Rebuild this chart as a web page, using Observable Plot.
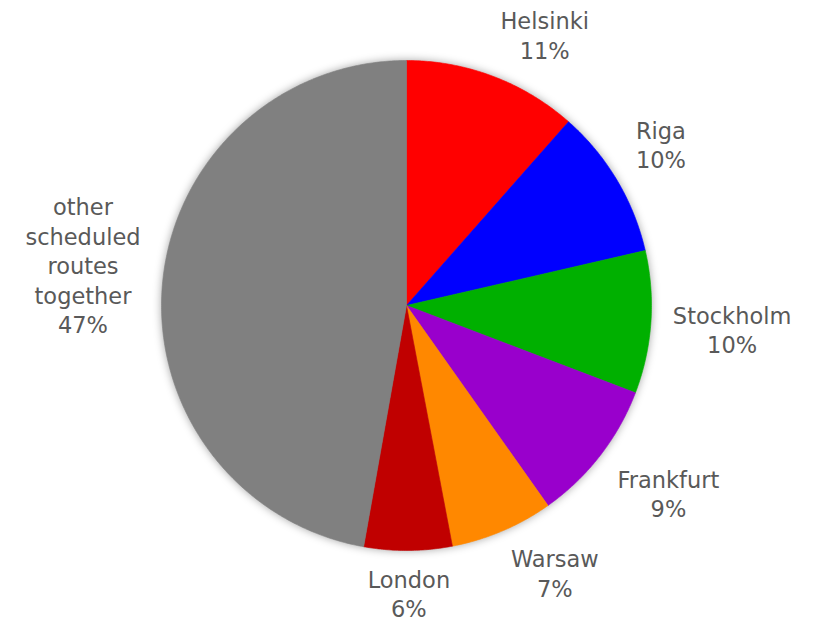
<!DOCTYPE html>
<html><head><meta charset="utf-8">
<script src="https://cdn.jsdelivr.net/npm/d3@7"></script>
<script src="https://cdn.jsdelivr.net/npm/@observablehq/plot@0.6"></script>
<style>body{margin:0;background:#fff}</style>
</head><body><div id="chart"></div>
<script>
// ---- data ----
const names = ["Helsinki", "Riga", "Stockholm", "Frankfurt", "Warsaw", "London", "other scheduled routes together"];
const labelLines = [["Helsinki"], ["Riga"], ["Stockholm"], ["Frankfurt"], ["Warsaw"], ["London"], ["other", "scheduled", "routes", "together"]];
const shares = [11.5, 9.9, 9.4, 9.4, 6.8, 5.8, 47.2];
const pctLabels = ["11%", "10%", "10%", "9%", "7%", "6%", "47%"];
const colors = ["#ff0000", "#0000ff", "#00b000", "#9900cc", "#ff8800", "#c00000", "#808080"];

// ---- layout ----
const W = 816, H = 622, cx = 406, cy = 305, R = 245;
const fontSize = 22.5, lineH = 29.5, gapX = 22, gapY = 13, fontWeight = 400;
const fontFamily = '"DejaVu Sans", sans-serif';

const arcs = d3.pie().sort(null).value(d => d)(shares);

// slice outlines (unit circle coordinates)
const pts = [];
arcs.forEach((a, i) => {
  pts.push({name: names[i], x: 0, y: 0});
  const n = Math.max(2, Math.ceil((a.endAngle - a.startAngle) / (Math.PI / 360)));
  for (let k = 0; k <= n; k++) {
    const t = a.startAngle + (a.endAngle - a.startAngle) * k / n;
    pts.push({name: names[i], x: Math.sin(t), y: Math.cos(t)});
  }
  pts.push({name: names[i], x: 0, y: 0});
});

// labels: box attached outside the pie at the slice's mid-angle
const ctx = document.createElement("canvas").getContext("2d");
ctx.font = `${fontWeight} ${fontSize}px ${fontFamily}`;
const f = v => Math.max(-1, Math.min(1, 2.8 * v));
const labels = arcs.map((a, i) => {
  const lines = [...labelLines[i], pctLabels[i]];
  const w = d3.max(lines, s => ctx.measureText(s).width);
  const h = lines.length * lineH;
  const m = (a.startAngle + a.endAngle) / 2;
  const s = Math.sin(m), c = Math.cos(m);
  const px = (R + gapX) * s + f(s) * w / 2;
  const py = (R + gapY) * c + f(c) * h / 2;
  return {text: lines.join("\n"), x: px / R, y: py / R};
});

const chart = Plot.plot({
  width: W, height: H,
  margin: 0,
  x: {domain: [-cx / R, (W - cx) / R], range: [0, W], axis: null},
  y: {domain: [-(H - cy) / R, cy / R], range: [H, 0], axis: null},
  color: {domain: names, range: colors},
  style: {background: "#fff"},
  marks: [
    Plot.line(pts, {x: "x", y: "y", z: "name", fill: "name", stroke: "name", strokeWidth: 0.6, curve: "linear"}),
    Plot.text(labels, {x: "x", y: "y", text: "text", fill: "#595959", fontSize, fontFamily, fontWeight, lineHeight: lineH / fontSize, textAnchor: "middle"})
  ]
});
const lineG = chart.querySelector("g[aria-label='line']");
if (lineG) lineG.style.filter = "drop-shadow(0px 0px 4px rgba(0,0,0,0.35))";
document.getElementById("chart").appendChild(chart);
</script>
</body></html>
